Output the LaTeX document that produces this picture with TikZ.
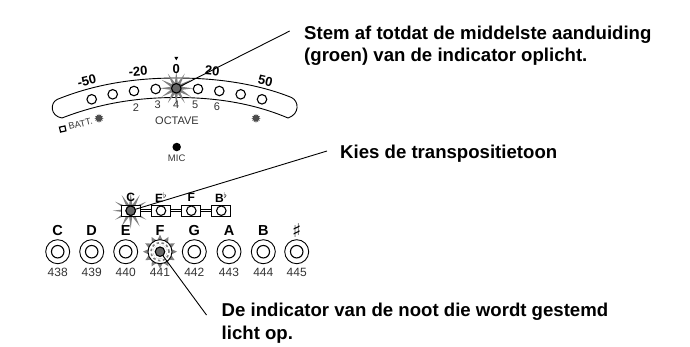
\documentclass[tikz,border=0pt]{standalone}
\usepackage{fontspec}
\setmainfont{Liberation Sans}
\newfontfamily\symbolfont{DejaVu Sans}
\usetikzlibrary{shapes.geometric, positioning}

\tikzset{led/.style={circle, draw, line width=1.1pt, fill=white, inner sep=0pt, minimum size=9.5pt},
         led on/.style={led, fill=black!60},
         burst/.style={star, star points=12, star point ratio=3, fill=black!50, inner sep=0pt, minimum size=#1},
         ring/.style={circle, draw, line width=0.9pt, fill=white, inner sep=0pt, minimum size=24pt},
         key/.style={draw, line width=0.9pt, fill=white, inner sep=0pt, minimum width=19pt, minimum height=11pt},
         sun/.style={star, star points=12, star point ratio=1.6, fill=black!70, inner sep=0pt, minimum size=9pt},
         scale mark/.style={font=\fontsize{13}{13}\selectfont\bfseries, inner sep=0pt},
         small mark/.style={font=\fontsize{11}{11}\selectfont, text=black!80, inner sep=0pt},
         note mark/.style={font=\fontsize{12}{12}\selectfont\bfseries, inner sep=0pt},
         key mark/.style={font=\fontsize{14.5}{14.5}\selectfont\bfseries, inner sep=0pt},
         note/.style={font=\fontsize{18.6}{22.3}\selectfont\bfseries, align=left, anchor=north west, inner sep=0pt},
         leader/.style={line width=0.9pt}}

\begin{document}
\begin{tikzpicture}[x=1pt, y=-1pt]

        \useasboundingbox (0, 0) rectangle (690, 346);

        % Display band
        \draw[line width=0.9pt] (57, 99.5) .. controls (95, 84) and (135, 78) .. (176.5, 78)
              .. controls (218, 78) and (258, 84) .. (291.5, 97.5)
              .. controls (299, 101) and (300, 114) .. (288, 118)
              .. controls (255, 104) and (218, 97.5) .. (176.5, 97.5)
              .. controls (135, 97.5) and (98, 104) .. (62, 118)
              .. controls (50, 116) and (50, 103) .. (57, 99.5) -- cycle;

        % Tuning lamps
        \node[burst=34pt] (glow) at (176.3, 88.3) {};
        \foreach \name/\x/\y in {a/91.7/99.3, b/112.7/94.3, c/134/91, d/155.7/89,
                                 f/198/89, g/219.3/91, h/240.7/94.3, i/262/99.3}
            \node[led] (lamp\name) at (\x, \y) {};

        % Scale
        \node[scale mark, rotate=13] (m50) at (86.7, 80.7) {-50};
        \node[scale mark, rotate=5]  (m20) at (138, 71.7)  {-20};
        \node[scale mark]            (p0)  at (176.3, 69.3) {0};
        \node[scale mark, rotate=-5] (p20) at (212.3, 71)  {20};
        \node[scale mark, rotate=-13] (p50) at (265.3, 80.7) {50};
        \node[isosceles triangle, isosceles triangle apex angle=60, shape border rotate=-90,
              fill, inner sep=0pt, minimum size=3.5pt] (zero) at (176.3, 58) {};

        % Octave numbers
        \foreach \oct/\x/\y in {2/136/107.7, 3/157.7/105, 4/176.3/105, 5/195.3/105, 6/217/107}
            \node[small mark] (oct\oct) at (\x, \y) {\oct};
        \node[small mark] (octave) at (177, 120.3) {OCTAVE};

        % Battery and signal marks
        \node[small mark, rotate=13, font=\fontsize{9.2}{9.2}\selectfont] (batt) at (80.5, 124) {BATT.};
        \node[draw, line width=1.2pt, rotate=13, inner sep=0pt, minimum width=5.5pt, minimum height=5pt] (cell) at (62.7, 129) {};
        \node[sun] (sunl) at (99, 118.3) {};
        \node[sun] (sunr) at (256, 118.3) {};

        % Microphone
        \node[circle, fill, inner sep=0pt, minimum size=8.5pt] (mic) at (176.7, 147) {};
        \node[small mark, font=\fontsize{9.5}{9.5}\selectfont] (miclabel) at (176.7, 158) {MIC};

        % Transpose keys
        \node[burst=36pt] (glowc) at (130.7, 210.7) {};
        \draw[line width=0.7pt, double, double distance=1.4pt] (130.7, 210.7) -- (221.3, 210.7);
        \foreach \name/\x/\lab in {kc/130.7/C, ke/161/E$^\flat$, kf/191.3/F, kb/221.3/B$^\flat$} {
            \node[key] (\name) at (\x, 210.7) {};
            \node[led] (\name led) at (\x, 210.7) {};
            \node[note mark] (\name lab) at (\x, 197.7) {\lab};
        }

        % Note keys
        \node[burst=34pt, star point ratio=1.5] (glowf) at (160, 251.7) {};
        \foreach \name/\x/\lab/\num in {C/57.7/C/438, D/91.7/D/439, E/125.7/E/440, F/160/F/441,
                                        G/194.3/G/442, A/229/A/443, B/263.3/B/444, S/296.7/{\symbolfont\fontsize{19}{19}\selectfont ♯}/445} {
            \node[ring] (n\name) at (\x, 251.7) {};
            \node[led, minimum size=12.5pt] (n\name led) at (\x, 251.7) {};
            \node[key mark] (n\name lab) at (\x, 231) {\lab};
            \node[small mark, font=\fontsize{12}{12}\selectfont] (n\name num) at (\x, 272.7) {\num};
        }
        \node[circle, fill=white, inner sep=0pt, minimum size=14pt] (nFclear) at (160, 251.7) {};
        \node[circle, draw=black!50, dash pattern=on 2.5pt off 2.5pt, line width=1.6pt, inner sep=0pt, minimum size=18pt] (nFdash) at (160, 251.7) {};

        % Notes
        \node[note] (stem) at (304, 25.4) {Stem af totdat de middelste aanduiding\\(groen) van de indicator oplicht.};
        \node[note] (kies) at (340, 144.9) {Kies de transpositietoon};
        \node[note] (licht) at (221.5, 303.2) {De indicator van de noot die wordt gestemd\\licht op.};

        % Leaders
        \coordinate (stem end) at (289.7, 31);
        \coordinate (kies end) at (327, 151);
        \coordinate (licht end) at (206.5, 315);
        \draw[leader] (176.3, 88.3) -- (stem end);
        \draw[leader] (130.7, 210.7) -- (kies end);
        \draw[leader] (160, 251.7) -- (licht end);
        \node[led on] (lampe) at (176.3, 88.3) {};
        \node[led on] (kcon) at (130.7, 210.7) {};
        \node[led on] (nFon) at (160, 251.7) {};
    \end{tikzpicture}
\end{document}
